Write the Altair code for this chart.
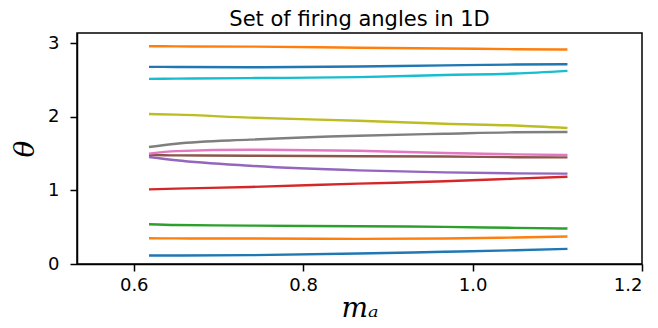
import altair as alt
import pandas as pd

x_vals = [0.618, 0.65, 0.737, 0.865, 0.967, 1.05, 1.112]

lines = [
    [0.115, 0.116, 0.120, 0.142, 0.166, 0.187, 0.206],
    [0.350, 0.348, 0.346, 0.342, 0.346, 0.360, 0.373],
    [0.540, 0.530, 0.522, 0.513, 0.505, 0.491, 0.482],
    [1.015, 1.025, 1.047, 1.092, 1.124, 1.160, 1.187],
    [1.455, 1.410, 1.336, 1.273, 1.246, 1.232, 1.228],
    [1.486, 1.476, 1.472, 1.465, 1.462, 1.452, 1.449],
    [1.499, 1.535, 1.553, 1.540, 1.509, 1.490, 1.482],
    [1.590, 1.635, 1.690, 1.744, 1.770, 1.790, 1.794],
    [2.038, 2.030, 1.990, 1.947, 1.906, 1.883, 1.848],
    [2.517, 2.520, 2.527, 2.540, 2.570, 2.589, 2.625],
    [2.680, 2.678, 2.675, 2.685, 2.700, 2.711, 2.716],
    [2.960, 2.958, 2.955, 2.940, 2.930, 2.920, 2.915],
]

colors = ["#1f77b4", "#ff7f0e", "#2ca02c", "#d62728", "#9467bd", "#8c564b",
          "#e377c2", "#7f7f7f", "#bcbd22", "#17becf", "#1f77b4", "#ff7f0e"]

rows = []
for i, ys in enumerate(lines):
    for x, y in zip(x_vals, ys):
        rows.append({"line": f"L{i:02d}", "m": x, "theta": y})
df = pd.DataFrame(rows)
names = [f"L{i:02d}" for i in range(len(lines))]

chart = alt.Chart(df).mark_line(strokeWidth=2.4, interpolate="monotone").encode(
    x=alt.X("m:Q", scale=alt.Scale(domain=[0.533, 1.2], nice=False, zero=False),
            axis=alt.Axis(values=[0.6, 0.8, 1.0, 1.2], format=".1f", title="mₐ",
                          grid=False)),
    y=alt.Y("theta:Q", scale=alt.Scale(domain=[0, 3.14], nice=False),
            axis=alt.Axis(values=[0, 1, 2, 3], format="d", title="θ", grid=False)),
    color=alt.Color("line:N", scale=alt.Scale(domain=names, range=colors), legend=None),
    detail="line:N",
).properties(
    width=565, height=231,
    title=alt.TitleParams("Set of firing angles in 1D", font="DejaVu Sans", fontSize=21,
                          fontWeight="normal", color="black", offset=3, anchor="middle"),
    autosize=alt.AutoSizeParams(type="none"),
    padding={"left": 69, "top": 25, "right": 8, "bottom": 60},
).configure_view(
    stroke="black", strokeWidth=1.5
).configure_axis(
    domainColor="black", domainWidth=1.5, tickColor="black", tickWidth=1.5, tickSize=7,
    labelFont="DejaVu Sans", labelFontSize=18, labelColor="black",
    titleFont="DejaVu Serif", titleFontStyle="italic", titleFontWeight="normal",
    titleColor="black"
).configure_axisX(titlePadding=0, labelPadding=5, titleFontSize=28).configure_axisY(
    titlePadding=8, labelPadding=11, titleFontSize=28)

chart.save("out.html", embed_options={"renderer": "svg", "actions": False})
